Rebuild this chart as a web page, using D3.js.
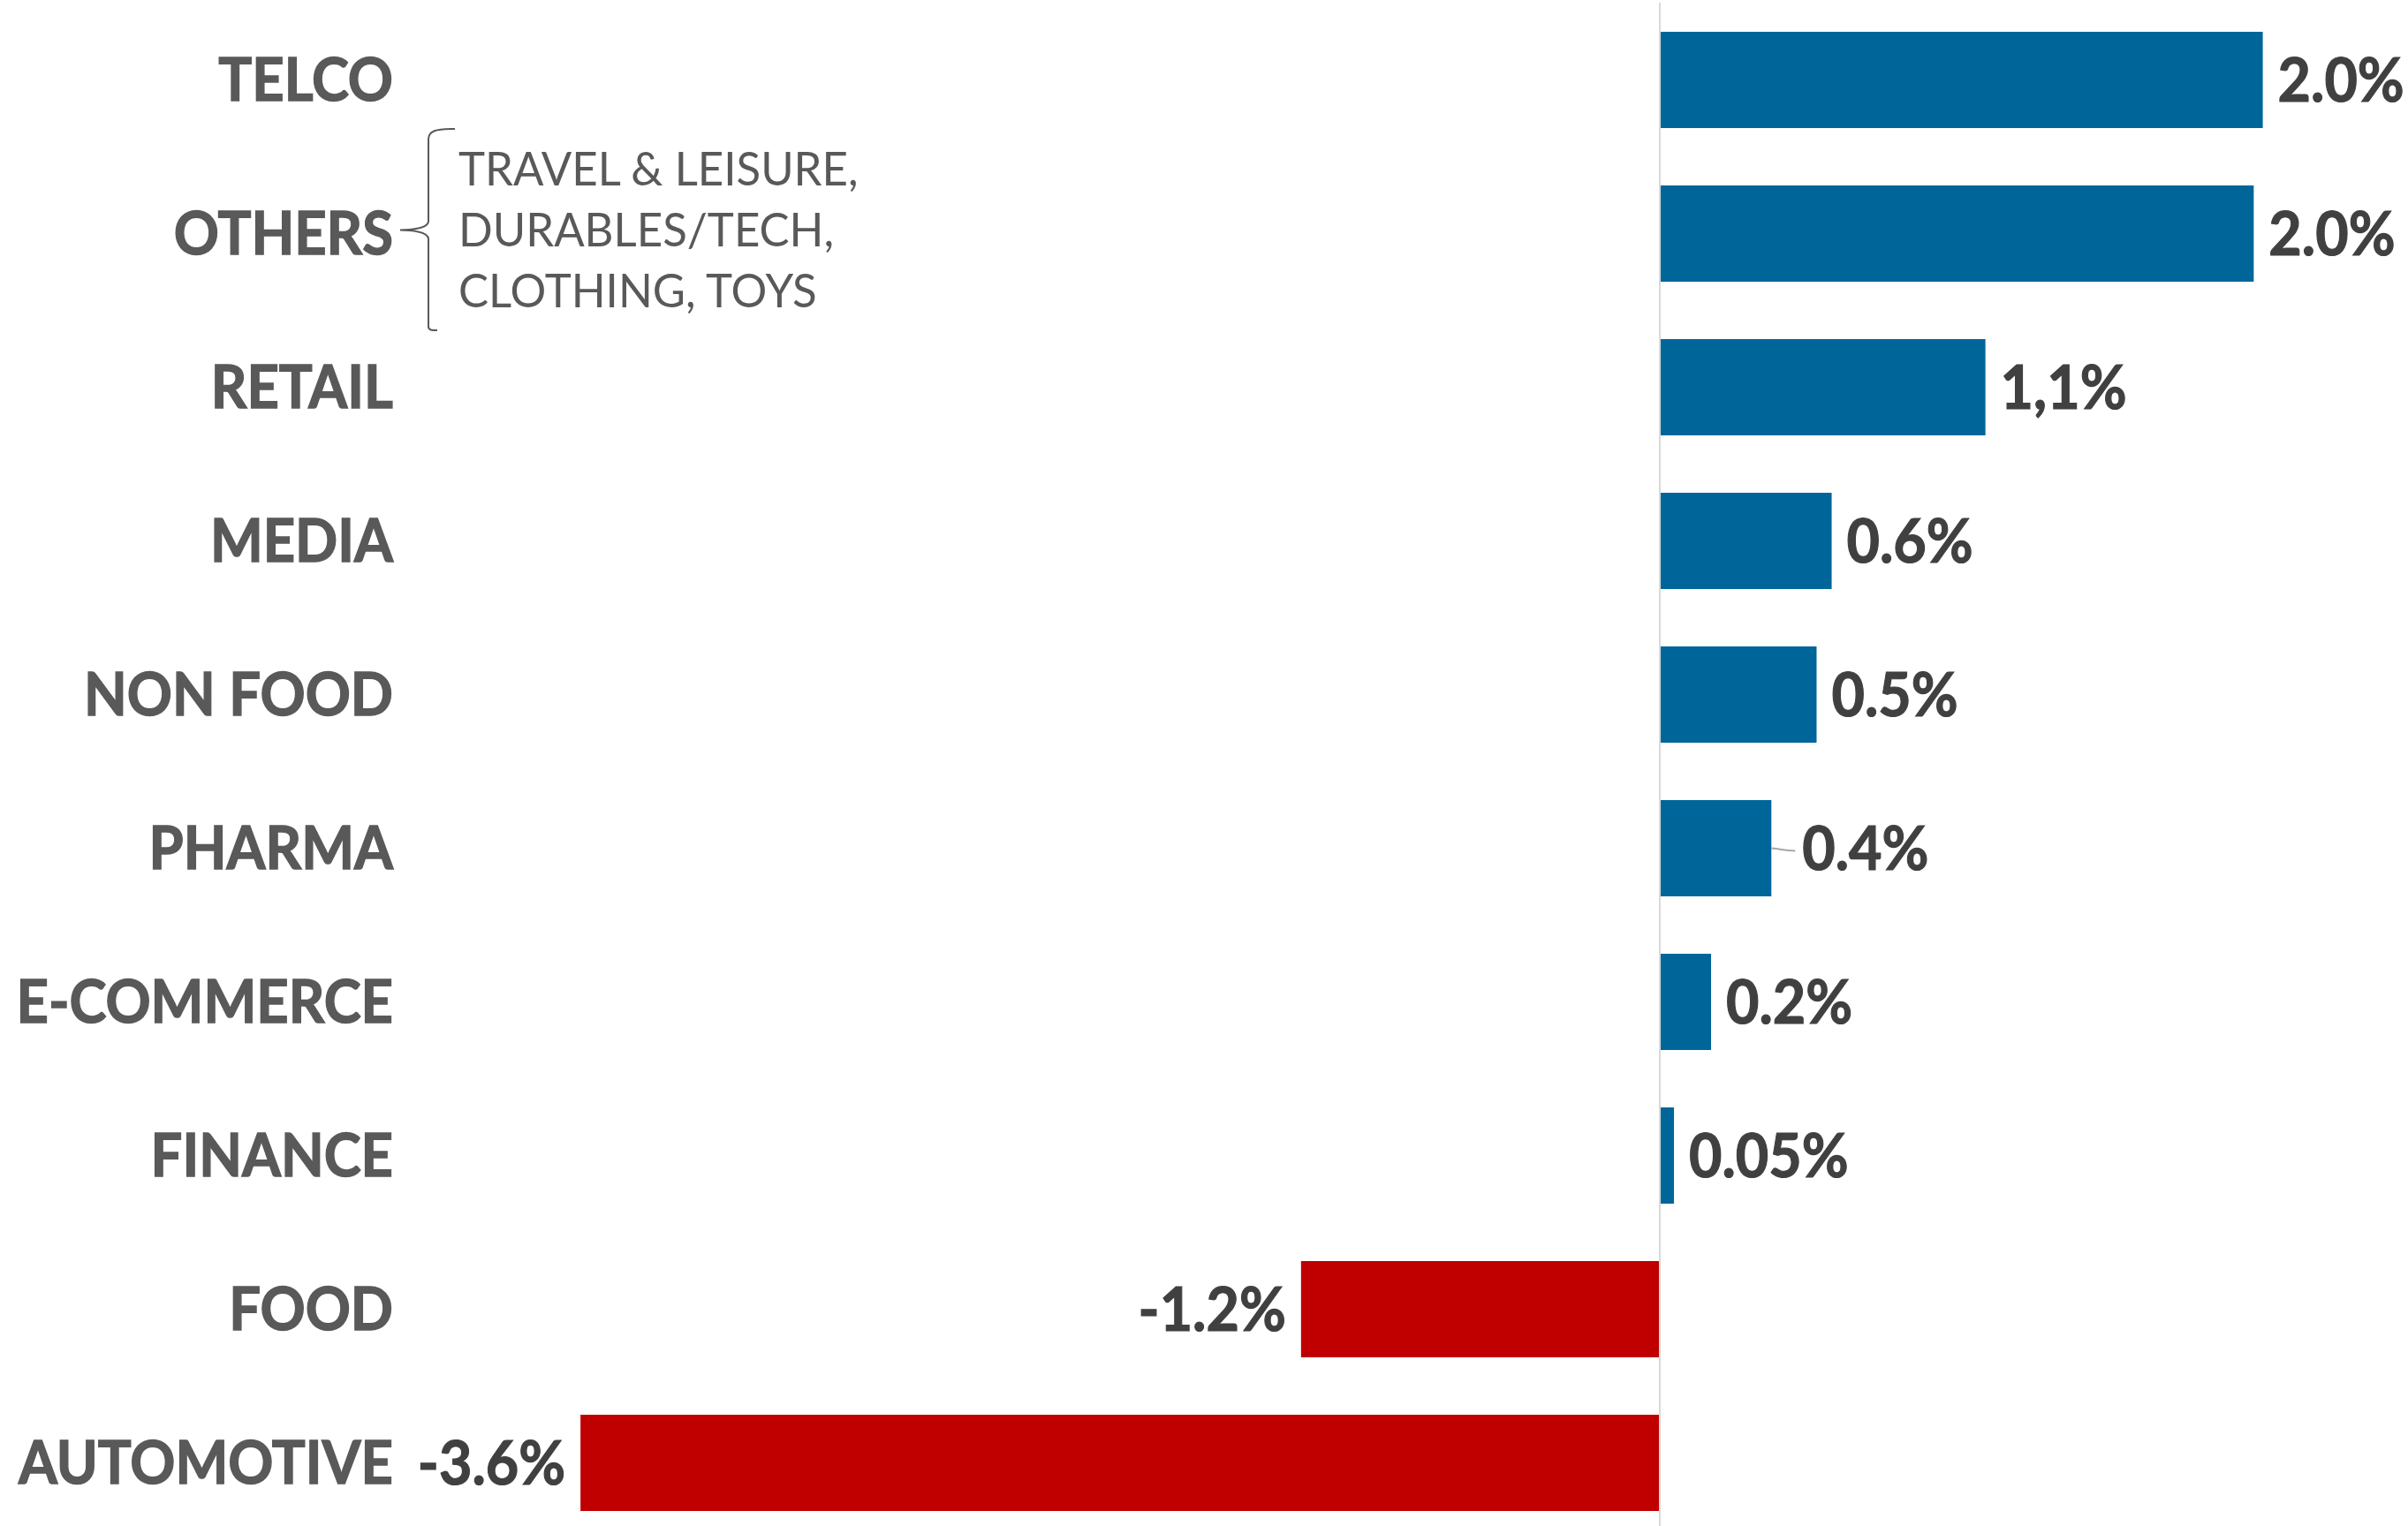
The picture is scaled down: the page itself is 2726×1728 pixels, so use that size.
<!DOCTYPE html>
<html>
<head>
<meta charset="utf-8">
<script src="https://cdn.jsdelivr.net/npm/d3@7"></script>
<style>
  html, body { margin: 0; padding: 0; background: #ffffff; }
  svg { display: block; }
</style>
</head>
<body>
<script>
// ---- data ----
const categories = ["TELCO", "OTHERS", "RETAIL", "MEDIA", "NON FOOD", "PHARMA", "E-COMMERCE", "FINANCE", "FOOD", "AUTOMOTIVE"];
const values = [2.0, 1.97, 1.08, 0.57, 0.52, 0.37, 0.17, 0.047, -1.19, -3.58];
const valueLabels = ["2.0%", "2.0%", "1,1%", "0.6%", "0.5%", "0.4%", "0.2%", "0.05%", "-1.2%", "-3.6%"];
const othersDetail = ["TRAVEL & LEISURE,", "DURABLES/TECH,", "CLOTHING, TOYS"];

// ---- layout ----
const W = 2726, H = 1728;
const svg = d3.select("body").append("svg").attr("width", W).attr("height", H);

const x = d3.scaleLinear().domain([-4, 2.5]).range([1879 - 4 * 341.3, 1879 + 2.5 * 341.3]);
const y = d3.scaleBand().domain(categories).range([3.5, 1743.5])
  .paddingInner(65 / 174).paddingOuter(32.5 / 174);

const FONT = "Lato, 'Open Sans', sans-serif";
const catSize = 67, valSize = 68;
const catSx = 0.945, valSx = 0.95;

// zero line
svg.append("line")
  .attr("x1", x(0)).attr("x2", x(0))
  .attr("y1", 3).attr("y2", H)
  .attr("stroke", "#d9d9d9").attr("stroke-width", 2);

// bars
svg.append("g").selectAll("rect")
  .data(categories)
  .join("rect")
  .attr("x", (d, i) => values[i] >= 0 ? x(0) + 1 : x(values[i]))
  .attr("width", (d, i) => values[i] >= 0 ? x(values[i]) - x(0) - 1 : x(0) - 1 - x(values[i]))
  .attr("y", d => y(d))
  .attr("height", y.bandwidth())
  .attr("fill", (d, i) => values[i] >= 0 ? "#006699" : "#c00000");

// category labels
const catX = 445;
svg.append("g").selectAll("g")
  .data(categories)
  .join("g")
  .attr("transform", d => `translate(${catX},${y(d) + y.bandwidth() / 2 + 0.358 * catSize}) scale(${catSx},1)`)
  .append("text")
  .attr("text-anchor", "end")
  .attr("font-family", FONT)
  .attr("font-weight", 700)
  .attr("font-size", catSize)
  .attr("fill", "#595959")
  .attr("stroke", "#595959").attr("stroke-width", 1.4)
  .text(d => d);

// value labels
const gap = 17;
svg.append("g").selectAll("g")
  .data(categories)
  .join("g")
  .attr("transform", (d, i) => {
    const v = values[i];
    let px = v >= 0 ? x(v) + gap : x(v) - gap;
    if (d === "PHARMA") px = x(v) + 35;
    return `translate(${px},${y(d) + y.bandwidth() / 2 + 0.358 * valSize}) scale(${valSx},1)`;
  })
  .append("text")
  .attr("text-anchor", (d, i) => values[i] >= 0 ? "start" : "end")
  .attr("font-family", FONT)
  .attr("font-weight", 700)
  .attr("font-size", valSize)
  .attr("fill", "#404040")
  .attr("stroke", "#404040").attr("stroke-width", 1.2)
  .text((d, i) => valueLabels[i]);

// leader line for PHARMA label
{
  const i = categories.indexOf("PHARMA");
  const cy = y("PHARMA") + y.bandwidth() / 2;
  const x0 = x(values[i]);
  svg.append("path")
    .attr("d", `M${x0},${cy} C${x0 + 12},${cy + 1} ${x0 + 14},${cy + 3} ${x0 + 27},${cy + 3}`)
    .attr("fill", "none").attr("stroke", "#a6a6a6").attr("stroke-width", 2);
}

// brace next to OTHERS
{
  const cy = y("OTHERS") + y.bandwidth() / 2 - 4;
  const bx = 485, tipX = 453, top = 146, bot = 374;
  const d = `M${bx + 30},${top} C${bx + 8},${top} ${bx},${top + 2} ${bx},${top + 12}`
    + ` L${bx},${cy - 10} C${bx},${cy - 2} ${tipX + 12},${cy} ${tipX},${cy}`
    + ` C${tipX + 12},${cy} ${bx},${cy + 2} ${bx},${cy + 10}`
    + ` L${bx},${bot - 4} C${bx},${bot} ${bx + 4},${bot} ${bx + 10},${bot}`;
  svg.append("path").attr("d", d).attr("fill", "none")
    .attr("stroke", "#595959").attr("stroke-width", 2);

  const detSize = 52, detSx = 0.98;
  svg.append("g").selectAll("g")
    .data(othersDetail)
    .join("g")
    .attr("transform", (t, k) => `translate(519,${210 + k * 69}) scale(${detSx},1)`)
    .append("text")
    .attr("font-family", FONT)
    .attr("font-weight", 400)
    .attr("font-size", detSize)
    .attr("fill", "#595959")
    .text(t => t);
}
</script>
</body>
</html>
